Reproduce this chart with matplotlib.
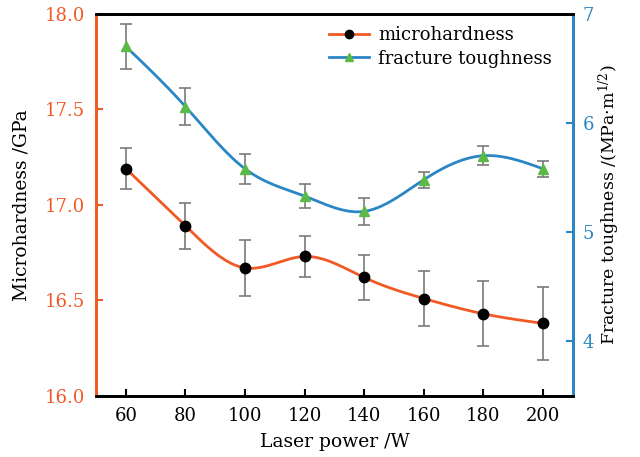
import numpy as np
import matplotlib
matplotlib.use("Agg")
import matplotlib.pyplot as plt

plt.rcParams['font.family'] = ['DejaVu Serif']
plt.rcParams['mathtext.fontset'] = 'dejavuserif'

power = [60, 80, 100, 120, 140, 160, 180, 200]
hardness = [17.19, 16.89, 16.67, 16.73, 16.62, 16.51, 16.43, 16.38]
hardness_err = [0.105, 0.12, 0.145, 0.105, 0.12, 0.145, 0.17, 0.19]
toughness = [6.70, 6.15, 5.58, 5.33, 5.19, 5.48, 5.70, 5.58]
toughness_err = [0.21, 0.17, 0.14, 0.11, 0.12, 0.075, 0.085, 0.075]

c_h = '#f15a24'
c_t = '#2a86c4'
c_g = '#5bb947'
c_err = '#7a7a7a'


def spline(x, y, n=300):
    # natural cubic spline, just for the smooth connecting line
    x = np.asarray(x, float)
    y = np.asarray(y, float)
    k = len(x)
    h = np.diff(x)
    A = np.zeros((k, k))
    r = np.zeros(k)
    A[0, 0] = A[-1, -1] = 1
    for i in range(1, k - 1):
        A[i, i - 1] = h[i - 1]
        A[i, i] = 2 * (h[i - 1] + h[i])
        A[i, i + 1] = h[i]
        r[i] = 3 * ((y[i + 1] - y[i]) / h[i] - (y[i] - y[i - 1]) / h[i - 1])
    c = np.linalg.solve(A, r)
    xs = np.linspace(x[0], x[-1], n)
    j = np.clip(np.searchsorted(x, xs) - 1, 0, k - 2)
    b = (y[j + 1] - y[j]) / h[j] - h[j] * (2 * c[j] + c[j + 1]) / 3
    d = (c[j + 1] - c[j]) / (3 * h[j])
    t = xs - x[j]
    return xs, y[j] + b * t + c[j] * t ** 2 + d * t ** 3


fig = plt.figure(figsize=(6.4, 4.57), dpi=100)
ax = fig.add_axes([0.15, 0.1335, 0.745, 0.8365])
ax2 = ax.twinx()

xs, ys = spline(power, hardness)
ax.plot(xs, ys, color=c_h, lw=2, zorder=2)
ax.errorbar(power, hardness, yerr=hardness_err, fmt='none', ecolor=c_err,
            elinewidth=1.2, capsize=4, capthick=1.2, zorder=3)
ax.plot(power, hardness, 'o', color='black', ms=7.5, zorder=4)

xs, ys = spline(power, toughness)
ax2.plot(xs, ys, color=c_t, lw=2, zorder=2)
ax2.errorbar(power, toughness, yerr=toughness_err, fmt='none', ecolor=c_err,
             elinewidth=1.2, capsize=4, capthick=1.2, zorder=3)
ax2.plot(power, toughness, '^', color=c_g, ms=7.5, zorder=4)

ax.set_xlim(50, 210)
ax.set_ylim(16.0, 18.0)
ax2.set_ylim(3.5, 7)
ax.set_xticks(power)
ax.set_yticks([16.0, 16.5, 17.0, 17.5, 18.0])
ax.set_yticklabels(['16.0', '16.5', '17.0', '17.5', '18.0'])
ax2.set_yticks([4, 5, 6, 7])

ax.set_xlabel('Laser power /W', fontsize=13.5, labelpad=6)
ax.set_ylabel('Microhardness /GPa', fontsize=13.5, labelpad=10)
ax2.set_ylabel('Fracture toughness /(MPa·m$^{1/2}$)', fontsize=12.5, labelpad=2)

ax.tick_params(axis='x', direction='in', length=5, width=1.5, labelsize=13, pad=8)
ax.tick_params(axis='y', direction='in', length=5, width=1.5, colors=c_h, labelsize=13, pad=8)
ax2.tick_params(axis='y', direction='in', length=5, width=1.5, colors=c_t, labelsize=13, pad=7)

for a in (ax, ax2):
    a.spines['top'].set_linewidth(2)
    a.spines['bottom'].set_linewidth(2)
    a.spines['left'].set_color(c_h)
    a.spines['left'].set_linewidth(2)
    a.spines['right'].set_color(c_t)
    a.spines['right'].set_linewidth(2)

h1 = plt.Line2D([], [], color=c_h, lw=2, marker='o', mfc='black', mec='black', ms=6)
h2 = plt.Line2D([], [], color=c_t, lw=2, marker='^', mfc=c_g, mec=c_g, ms=6)
ax.legend([h1, h2], ['microhardness', 'fracture toughness'], loc='upper right',
          bbox_to_anchor=(0.99, 1.01), frameon=False, fontsize=13,
          handlelength=2.2, handletextpad=0.5, labelspacing=0.3)

fig.savefig('out.png', dpi=100)
